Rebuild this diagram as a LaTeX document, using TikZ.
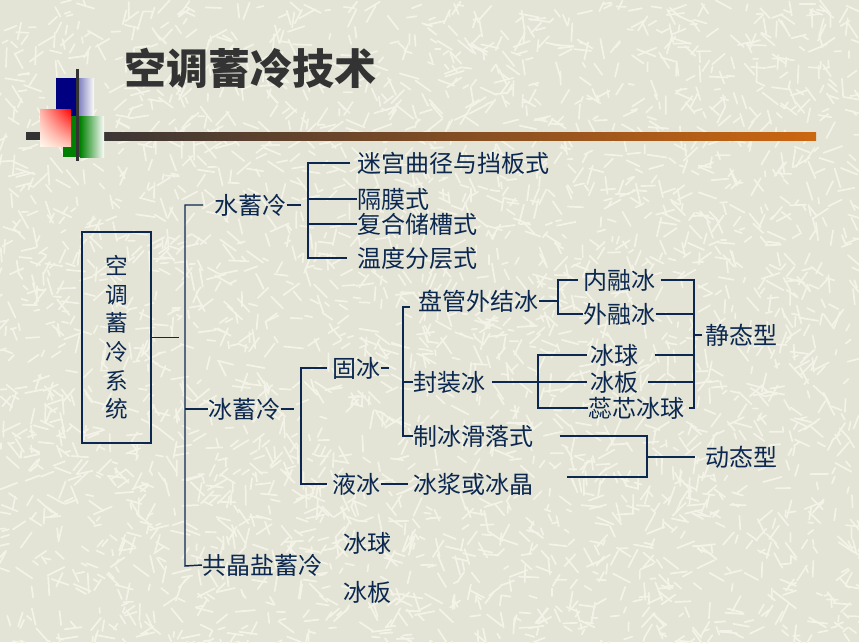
\documentclass[tikz,border=0pt]{standalone}
\usepackage{fontspec}
\usepackage{xcolor}
\usetikzlibrary{shadings}
\newfontfamily\cjk{Noto Sans CJK SC}
\definecolor{treenavy}{HTML}{0C2850}
\definecolor{paper}{HTML}{E3E4D5}
\definecolor{streakc}{HTML}{F3F3E8}
\definecolor{dgray}{HTML}{333333}
\definecolor{barl}{HTML}{3B3535}
\definecolor{barr}{HTML}{CC6611}
\definecolor{logoblue}{HTML}{000080}
\definecolor{logogreen}{HTML}{008000}
\definecolor{pinkul}{HTML}{FFB4AA}
\definecolor{pinkll}{HTML}{FFF8EC}
\definecolor{pinklr}{HTML}{FFC8B9}

\begin{document}
\begin{tikzpicture}[x=0.75pt,y=0.75pt,yscale=-1,xscale=1,
  lbl/.style={anchor=west,inner sep=0pt,text=treenavy,font=\cjk\fontsize{18pt}{20pt}\selectfont},
  tline/.style={draw=treenavy,line width=1.1pt},
  streak/.style={draw=streakc,line width=1.3pt,line cap=round}]

% paper
\fill[paper] (0,0) rectangle (859,642);
\useasboundingbox (0,0) rectangle (859,642);
\pgfmathsetseed{42}
\foreach \i in {1,...,3200}{
  \pgfmathsetmacro{\stx}{rnd*859}
  \pgfmathsetmacro{\sty}{rnd*642}
  \pgfmathsetmacro{\stang}{rnd*180}
  \pgfmathsetmacro{\stlen}{5+rnd*15}
  \draw[streak] (\stx,\sty) -- ++(\stang:\stlen);
}

% title bar and logo
\fill[dgray] (26,132) rectangle (104,140);
\shade[left color=barl,right color=barr] (104,132) rectangle (816,140);
\fill[logoblue] (56,78) rectangle (77,116);
\shade[left color=logoblue!55!white,right color=white!92!paper] (77,78) rectangle (94,116);
\fill[logogreen] (63,116) rectangle (80,157);
\shade[left color=logogreen,right color=white!92!paper] (80,116) rectangle (104,157);
\shade[upper left=pinkul,upper right=red,lower left=pinkll,lower right=pinklr]
  (40,109) rectangle (71,146);
\draw[dgray,line width=2.25pt] (77,69) -- (77,161);

\node[text=dgray,font=\cjk\bfseries\fontsize{31.5pt}{34pt}\selectfont] (title) at (250,68) {空调蓄冷技术};

% tree
\node[draw=treenavy,line width=1.1pt,minimum width=51.75pt,minimum height=158.25pt,align=center,
  text=treenavy,font=\cjk\fontsize{17pt}{21.4pt}\selectfont] (sys) at (116.5,337.5) {空\\调\\蓄\\冷\\系\\统};

\node[lbl] (sx) at (214,205) {水蓄冷};
\node[lbl] (bx) at (208,409) {冰蓄冷};
\node[lbl] (gj) at (202,565) {共晶盐蓄冷};
\node[lbl] (s1) at (357,163) {迷宫曲径与挡板式};
\node[lbl] (s2) at (357,199) {隔膜式};
\node[lbl] (s3) at (357,224) {复合储槽式};
\node[lbl] (s4) at (357,258) {温度分层式};
\node[lbl] (gb) at (332,368) {固冰};
\node[lbl] (yb) at (332,484) {液冰};
\node[lbl] (pg) at (418,301) {盘管外结冰};
\node[lbl] (fz) at (413,382) {封装冰};
\node[lbl] (zb) at (413,436) {制冰滑落式};
\node[lbl] (bj) at (413,484) {冰浆或冰晶};
\node[lbl] (nr) at (583,280) {内融冰};
\node[lbl] (wr) at (583,314) {外融冰};
\node[lbl] (bq) at (590,355) {冰球};
\node[lbl] (bb) at (590,382) {冰板};
\node[lbl] (rx) at (588,408) {蕊芯冰球};
\node[lbl] (jt) at (705,335) {静态型};
\node[lbl] (dt) at (705,457) {动态型};
\node[lbl] (gq) at (343,543) {冰球};
\node[lbl] (gbb) at (343,592) {冰板};

\coordinate (tr) at (185,566);
\coordinate (sj) at (308,165);
\coordinate (bj0) at (301,369);
\coordinate (gj0) at (403,307);
\coordinate (pj) at (558,280);
\coordinate (fj) at (538,356);
\coordinate (jj) at (694,280);
\coordinate (dj) at (647,477);

\draw[tline] (sys.east) -- ++(27,0);
\draw[tline] ([xshift=-8.25pt]sx.west) -| (tr) -- (gj.west);
\draw[tline] (tr |- bx.west) -- (bx.west);

\draw[tline] (sx.east) -- ++(14,0);
\draw[tline] ([xshift=-5pt]s1.west) -| (sj |- s4.west) -- ([xshift=-7.5pt]s4.west);
\foreach \n in {s2,s3}
  \draw[tline] (sj |- \n.west) -- (\n.west);

\draw[tline] (bx.east) -- ++(13,0);
\draw[tline] ([xshift=-4pt]gb.west) -| (bj0 |- yb.west) -- ([xshift=-4pt]yb.west);
\draw[tline] (gb.east) -- ++(8,0);
\draw[tline] (yb.east) -- ([xshift=-3.75pt]bj.west);

\draw[tline] (gj0 -| pg.west) ++(-8,0) -- (gj0) |- (zb.west);
\draw[tline] (gj0 |- fz.west) -- (fz.west);

\draw[tline] (pg.east) -- (pj |- pg.east);
\draw[tline] ([xshift=-4pt]nr.west) -| (pj |- wr.west) -- (wr.west);

\draw[tline] ([xshift=5pt]fz.east) -- ([xshift=-2pt]bb.west);
\draw[tline] ([xshift=-2pt]bq.west) -| (fj |- rx.west) -- (rx.west);

\draw[tline] ([xshift=4pt]nr.east) -| (jj |- rx.east) -- ([xshift=3pt]rx.east);
\draw[tline] (wr.east) -- (jj |- wr.east);
\draw[tline] ([xshift=12pt]bq.east) -- (jj |- bq.east);
\draw[tline] ([xshift=7pt]bb.east) -- (jj |- bb.east);
\draw[tline] (jj |- jt.west) -- ([xshift=-2pt]jt.west);

\draw[tline] ([xshift=19.5pt]zb.east) -| (dj) -- ++(-80,0);
\draw[tline] (dj |- dt.west) -- ([xshift=-7.5pt]dt.west);

\end{tikzpicture}
\end{document}
